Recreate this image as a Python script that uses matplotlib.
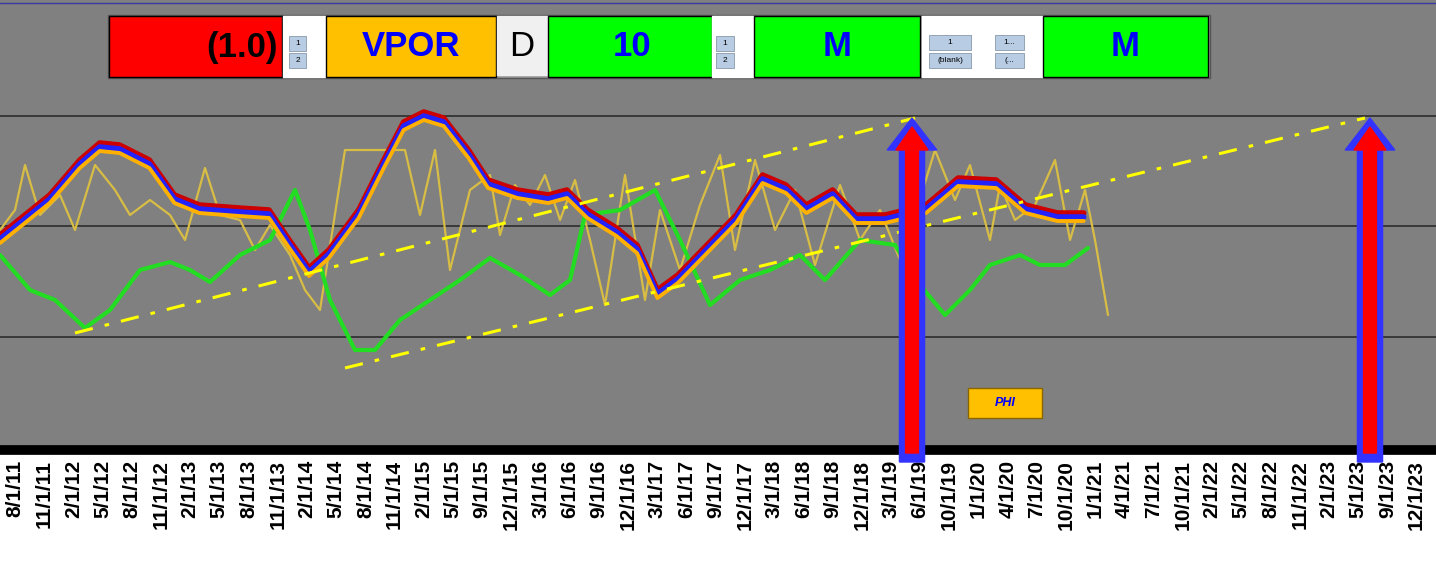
import matplotlib
matplotlib.use("Agg")
import matplotlib.pyplot as plt
from matplotlib.patches import Rectangle, Polygon
import numpy as np

plt.rcParams['font.family'] = ['Liberation Sans', 'DejaVu Sans']

W, H = 1436, 565
labels = ["8/1/11","11/1/11","2/1/12","5/1/12","8/1/12","11/1/12","2/1/13","5/1/13","8/1/13","11/1/13",
          "2/1/14","5/1/14","8/1/14","11/1/14","2/1/15","5/1/15","9/1/15","12/1/15","3/1/16","6/1/16",
          "9/1/16","12/1/16","3/1/17","6/1/17","9/1/17","12/1/17","3/1/18","6/1/18","9/1/18","12/1/18",
          "3/1/19","6/1/19","10/1/19","1/1/20","4/1/20","7/1/20","10/1/20","1/1/21","4/1/21","7/1/21",
          "10/1/21","2/1/22","5/1/22","8/1/22","11/1/22","2/1/23","5/1/23","9/1/23","12/1/23"]

red_x = [-0.51,1.19,2.22,2.9,3.58,4.6,5.46,6.31,7.68,8.7,9.39,10.07,10.75,11.77,12.63,13.31,14.0,14.68,15.53,16.2,
         17.2,18.26,18.9,19.6,20.6,21.3,22.0,22.7,23.7,24.7,25.6,26.4,27.1,28.0,28.8,29.8,31.2,32.3,33.6,34.6,35.7,36.6]
red_v = [-9,31,66,83,81,66,31,21,18,16,-14,-42,-24,16,66,104,114,108,76,46,
         36,31,36,16,-2,-19,-64,-49,-19,11,51,41,21,36,11,11,21,48,46,21,13,13]
blue_v = [-13,27,62,79,77,62,27,17,14,12,-18,-46,-28,12,62,100,110,104,72,42,
          32,27,32,12,-6,-23,-68,-53,-23,7,47,37,17,32,7,7,17,44,42,17,9,9]
orange_v = [-17,23,58,75,73,58,23,13,10,8,-22,-50,-32,8,58,96,106,100,68,38,
            28,23,28,8,-10,-27,-72,-57,-27,3,43,33,13,28,3,3,13,40,38,13,5,5]

green_px = [0,30,55,85,110,140,170,190,210,240,270,295,310,330,355,375,400,430,460,490,520,550,570,585,620,655,680,
            710,740,770,800,825,860,895,920,945,970,990,1020,1040,1065,1088]
green_y = [255,290,300,328,310,270,262,270,282,255,240,190,230,300,350,350,320,300,280,258,275,295,280,215,210,190,240,
           305,280,270,255,280,240,245,285,315,290,265,255,265,265,248]

yel_px = [0,15,25,40,60,75,95,115,130,150,170,185,205,220,240,255,270,290,305,320,345,370,405,420,435,450,470,490,500,515,
          530,545,560,575,590,605,625,645,660,680,700,720,735,755,775,795,815,840,860,880,900,915,935,955,970,990,1000,
          1015,1035,1055,1070,1085,1095,1108]
yel_y = [230,210,165,215,195,230,165,190,215,200,215,240,168,215,220,250,225,255,290,310,150,150,150,215,150,270,190,175,
         235,185,205,175,220,180,240,305,175,300,210,270,205,155,250,160,230,190,265,185,240,210,260,215,150,200,165,240,
         185,220,205,160,240,190,240,315]

trend1_px = [(75,333),(915,118)]
trend2_px = [(345,368),(1365,118)]

def px2i(x): return (x - 15) / 29.2
def py2v(y): return 226 - y

fig = plt.figure(figsize=(W/100, H/100), dpi=100)
fig.patch.set_facecolor("white")
ax = fig.add_axes([0, 1-450/H, 1, 450/H])
ax.set_facecolor("#808080")
ax.set_xlim(px2i(0), px2i(W))
ax.set_ylim(-224, 226)
for g in [110, 0, -111]:
    ax.axhline(g, color="#333333", lw=1.3, zorder=1)

gx = [px2i(x) for x in green_px]; gy = [py2v(y) for y in green_y]
yx = [px2i(x) for x in yel_px]; yy = [py2v(y) for y in yel_y]
kw = dict(solid_joinstyle="round", solid_capstyle="round")
ax.plot(yx, yy, color="#d8bd45", lw=1.6, zorder=2, **kw)
ax.plot(gx, gy, color="#22dd22", lw=3, zorder=3, **kw)
ax.plot(red_x, red_v, color="#cc0000", lw=4, zorder=4, **kw)
ax.plot(red_x, blue_v, color="#2222ff", lw=4, zorder=5, **kw)
ax.plot(red_x, orange_v, color="#ffb000", lw=2.8, zorder=6, **kw)
for t in (trend1_px, trend2_px):
    ax.plot([px2i(t[0][0]), px2i(t[1][0])], [py2v(t[0][1]), py2v(t[1][1])],
            color="yellow", lw=2.2, ls=(0, (6, 4, 1.5, 4)), zorder=7)

def arrow(xc_px):
    xc = px2i(xc_px)
    top = py2v(118); bot = py2v(462); hl = 32
    for sw, hw, col, dt in [(0.43, 0.85, "#3333ff", 0), (0.22, 0.55, "#ff0000", 9)]:
        pts = [(xc-sw, bot+dt), (xc-sw, top-hl), (xc-hw, top-hl), (xc, top-dt), (xc+hw, top-hl),
               (xc+sw, top-hl), (xc+sw, bot+dt)]
        ax.add_patch(Polygon(pts, closed=True, color=col, zorder=9, clip_on=False))
arrow(912)
arrow(1370)

ax.set_xticks(range(len(labels)))
ax.set_xticklabels(labels, rotation=90, fontsize=15, fontweight="bold")
ax.tick_params(axis="x", length=0, pad=7)
ax.set_yticks([])
for s in ["top", "left", "right"]:
    ax.spines[s].set_visible(False)
ax.spines["bottom"].set_linewidth(7)
ax.spines["bottom"].set_color("black")

def rect(x0, y0, x1, y1, fc, ec="black", lw=1):
    fig.patches.append(Rectangle((x0/W, 1-y1/H), (x1-x0)/W, (y1-y0)/H, transform=fig.transFigure,
                                 facecolor=fc, edgecolor=ec, lw=lw, zorder=20))
def text(x, y, s, ha="center", **kw):
    fig.text(x/W, 1-y/H, s, ha=ha, va="center", zorder=21, **kw)

fig.add_artist(plt.Line2D([0, 1], [1-3/H, 1-3/H], color="#3a3aa0", lw=1, transform=fig.transFigure))
rect(108, 15, 1210, 78, "#9a9a9a", ec="#555555")
rect(109, 16, 282, 77, "#ff0000")
text(278, 47, "(1.0)", ha="right", fontsize=25, fontweight="bold", color="black")
rect(283, 16, 325, 77, "white", ec="white")
rect(326, 16, 496, 77, "#ffc000")
text(411, 47, "VPOR", fontsize=25, fontweight="bold", color="#0000ff")
rect(497, 16, 547, 75, "#f0f0f0", ec="#f0f0f0")
text(522, 47, "D", fontsize=25, color="black")
rect(548, 16, 712, 77, "#00ff00")
text(632, 47, "10", fontsize=25, fontweight="bold", color="#0000ff")
rect(712, 16, 753, 77, "white", ec="white")
rect(754, 16, 920, 77, "#00ff00")
text(837, 47, "M", fontsize=25, fontweight="bold", color="#0000ff")
rect(922, 16, 1043, 77, "white", ec="white")
rect(1043, 16, 1208, 77, "#00ff00")
text(1125, 47, "M", fontsize=25, fontweight="bold", color="#0000ff")
for (x0, x1, ys, labs) in [(289, 306, [36, 53], ["1", "2"]), (716, 734, [36, 53], ["1", "2"]),
                           (929, 971, [35, 53], ["1", "(blank)"]), (995, 1024, [35, 53], ["1...", "(..."])]:
    for yv, lb in zip(ys, labs):
        rect(x0, yv, x1, yv + 15, "#b8cce4", ec="#8899aa", lw=0.6)
        text((x0 + x1) / 2, yv + 7.5, lb, fontsize=6, color="black")

rect(968, 388, 1042, 418, "#ffc000", ec="#886600")
text(1005, 403, "PHI", fontsize=9, fontweight="bold", fontstyle="italic", color="#0000ff")

fig.savefig("out.png", dpi=100)
